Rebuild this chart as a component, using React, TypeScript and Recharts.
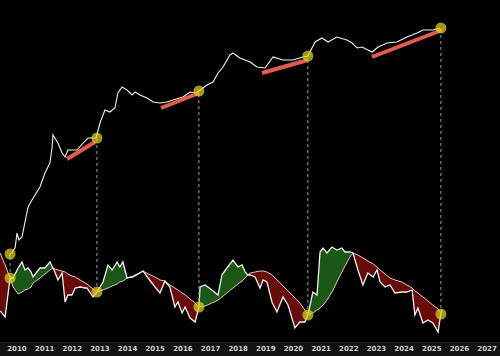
import {
  ComposedChart,
  Area,
  Line,
  Scatter,
  XAxis,
  YAxis,
} from "recharts";

/* ============ data ============ */

const yearTicks = [2010, 2011, 2012, 2013, 2014, 2015, 2016, 2017, 2018, 2019, 2020, 2021, 2022, 2023, 2024, 2025, 2026, 2027];

// upper panel: price (log-ish level)
const priceYears = [
  2009.71, 2009.93, 2010.0, 2010.07, 2010.18, 2010.4, 2010.54, 2010.83, 2011.01, 2011.19,
  2011.27, 2011.3, 2011.48, 2011.63, 2011.74, 2011.84, 2012.17, 2012.39, 2012.57, 2012.86,
  2013.0, 2013.18, 2013.36, 2013.54, 2013.65, 2013.8, 2013.98, 2014.16, 2014.27, 2014.45,
  2014.7, 2014.92, 2015.17, 2015.42, 2015.64, 2016.0, 2016.26, 2016.44, 2016.58, 2016.87,
  2017.09, 2017.27, 2017.45, 2017.7, 2017.81, 2018.06, 2018.43, 2018.68, 2018.97, 2019.26,
  2019.62, 2019.98, 2020.34, 2020.52, 2020.78, 2021.03, 2021.25, 2021.57, 2021.93, 2022.12,
  2022.3, 2022.48, 2022.84, 2023.06, 2023.38, 2023.74, 2024.1, 2024.47, 2024.68, 2025.04,
  2025.3,
];
const priceValues = [
  87, 95, 110, 103, 106, 136, 143, 156, 170, 180,
  196, 208, 200, 190, 186, 193, 193, 200, 205, 205,
  220, 233, 231, 235, 250, 256, 253, 248, 251, 248,
  245, 241, 240, 241, 243, 246, 251, 250, 252, 258,
  261, 270, 276, 288, 290, 285, 281, 276, 275, 286,
  283, 283, 286, 287, 301, 305, 301, 306, 303, 300,
  295, 296, 291, 296, 300, 301, 306, 310, 313, 313,
  315,
];

// lower panel: oscillator and its moving average
const oscYears = [
  2009.39, 2009.57, 2009.75, 2009.86, 2010.04, 2010.18, 2010.29, 2010.4, 2010.51, 2010.58,
  2010.69, 2010.83, 2011.01, 2011.19, 2011.3, 2011.37, 2011.48, 2011.63, 2011.74, 2011.84,
  2011.99, 2012.1, 2012.28, 2012.46, 2012.53, 2012.75, 2012.89, 2013.11, 2013.29, 2013.44,
  2013.62, 2013.72, 2013.83, 2013.98, 2014.2, 2014.56, 2014.74, 2014.99, 2015.17, 2015.35,
  2015.53, 2015.71, 2015.82, 2015.97, 2016.08, 2016.26, 2016.44, 2016.58, 2016.62, 2016.8,
  2017.05, 2017.27, 2017.41, 2017.59, 2017.81, 2017.99, 2018.14, 2018.25, 2018.35, 2018.43,
  2018.61, 2018.79, 2018.9, 2019.04, 2019.22, 2019.4, 2019.62, 2019.8, 2020.05, 2020.23,
  2020.41, 2020.52, 2020.7, 2020.85, 2020.96, 2021.07, 2021.21, 2021.39, 2021.57, 2021.75,
  2021.86, 2022.04, 2022.15, 2022.33, 2022.51, 2022.69, 2022.88, 2023.02, 2023.13, 2023.31,
  2023.49, 2023.67, 2023.92, 2024.1, 2024.29, 2024.39, 2024.5, 2024.68, 2024.86, 2025.04,
  2025.23, 2025.33, 2025.37,
];
const oscValues = [
  32, 26, 65, 65, 75, 81, 73, 75, 71, 66,
  70, 75, 75, 81, 75, 71, 63, 70, 41, 48,
  48, 55, 56, 55, 55, 46, 51, 61, 78, 73,
  81, 76, 81, 65, 66, 72, 65, 56, 50, 62,
  56, 36, 41, 30, 36, 25, 21, 36, 56, 58,
  53, 48, 68, 75, 83, 76, 78, 71, 68, 68,
  66, 55, 63, 61, 41, 31, 46, 38, 15, 21,
  21, 28, 51, 48, 91, 95, 90, 96, 93, 95,
  91, 91, 90, 73, 58, 70, 66, 73, 61, 56,
  58, 50, 51, 51, 53, 28, 35, 20, 23, 20,
  11, 30, 33,
];
const maValues = [
  90, 78, 65, 56, 49, 51, 53, 54, 56, 60,
  62, 65, 69, 73, 75, 74, 73, 72, 71, 69,
  67, 66, 63, 60, 59, 54, 51, 53, 55, 57,
  59, 61, 62, 65, 67, 72, 69, 66, 63, 62,
  58, 55, 53, 50, 48, 44, 40, 36, 36, 37,
  40, 43, 46, 50, 55, 59, 62, 65, 68, 70,
  71, 72, 72, 71, 68, 63, 57, 52, 45, 40,
  33, 28, 30, 33, 35, 38, 43, 51, 61, 71,
  77, 86, 90, 88, 85, 82, 79, 76, 73, 69,
  65, 63, 61, 58, 55, 52, 50, 46, 42, 38,
  34, 30, 30,
];

// divergence pivots: upper trend lines + matching oscillator lows
const trendStartYears = [2011.81, 2015.21, 2018.86, 2022.84];
const trendStartValues = [184, 235, 270, 286];
const trendEndYears = [2012.82, 2016.58, 2020.52, 2025.37];
const trendEndValues = [201, 250, 283, 313];

const pivotYears = [2009.75, 2012.89, 2016.58, 2020.52, 2025.33];
const pivotPrice = [89, 205, 252, 287, 315];
const pivotOsc = [65, 51, 36, 28, 29];

/* ============ tables for the library ============ */

const oscRows = oscYears.map((x, i) => {
  const o = oscValues[i];
  const m = maValues[i];
  return {
    x,
    osc: o,
    ma: m,
    up: [m, Math.max(o, m)],
    down: [Math.min(o, m), m],
  };
});

const priceRows = priceYears.map((x, i) => ({ x, v: priceValues[i] }));

const trends = trendStartYears.map((x, i) => [
  { x, v: trendStartValues[i] },
  { x: trendEndYears[i], v: trendEndValues[i] },
]);

const pivotLines = pivotYears.map((x, i) => [
  { x, v: pivotOsc[i] },
  { x, v: pivotPrice[i] },
]);

const pivotDots = [
  ...pivotYears.map((x, i) => ({ x, v: pivotPrice[i] })),
  ...pivotYears.map((x, i) => ({ x, v: pivotOsc[i] })),
];

const W = 500;
const H = 356;

const Dot = (p: any) => (
  <circle cx={p.cx} cy={p.cy} r={5.5} fill="rgba(222,210,30,0.72)" />
);

export default function App() {
  return (
    <div
      style={{
        position: "absolute",
        left: 0,
        top: 0,
        width: W,
        height: H,
        background: "#000",
        overflow: "hidden",
      }}
    >
      <div
        style={{
          position: "absolute",
          left: 0,
          bottom: 0,
          width: W,
          height: 13,
          background: "#121212",
          borderTop: "1px solid #222",
        }}
      />
      <ComposedChart
        width={W}
        height={H}
        data={oscRows}
        margin={{ top: 0, right: 0, bottom: 0, left: 0 }}
        style={{ position: "absolute", left: 0, top: 0 }}
      >
        <XAxis
          dataKey="x"
          type="number"
          domain={[2009.385, 2027.468]}
          allowDataOverflow
          ticks={yearTicks}
          height={13}
          tickSize={0}
          tickMargin={3}
          axisLine={false}
          tickLine={false}
          tick={{ fontSize: 7, fill: "#cfcfcf", fontWeight: 700, fontFamily: "DejaVu Sans" }}
        />
        <YAxis hide type="number" domain={[0, 343]} allowDataOverflow />

        <Area
          dataKey="up"
          type="linear"
          stroke="none"
          fill="#1b5717"
          fillOpacity={1}
          dot={false}
          activeDot={false}
          isAnimationActive={false}
        />
        <Area
          dataKey="down"
          type="linear"
          stroke="none"
          fill="#6a0b0b"
          fillOpacity={1}
          dot={false}
          activeDot={false}
          isAnimationActive={false}
        />
        <Line dataKey="ma" type="linear" stroke="#e6c4c8" strokeWidth={1} dot={false} activeDot={false} isAnimationActive={false} />
        <Line dataKey="osc" type="linear" stroke="#f2f2f2" strokeWidth={1.3} dot={false} activeDot={false} isAnimationActive={false} />

        {pivotLines.map((d, i) => (
          <Line
            key={`pv-${i}`}
            data={d}
            dataKey="v"
            stroke="#9a9a9a"
            strokeWidth={1}
            strokeDasharray="3 3"
            dot={false}
            activeDot={false}
            isAnimationActive={false}
          />
        ))}

        <Line
          data={priceRows}
          dataKey="v"
          type="linear"
          stroke="#f2f2f2"
          strokeWidth={1.1}
          dot={false}
          activeDot={false}
          isAnimationActive={false}
        />

        {trends.map((d, i) => (
          <Line
            key={`tr-${i}`}
            data={d}
            dataKey="v"
            stroke="#e35a4e"
            strokeWidth={4}
            dot={false}
            activeDot={false}
            isAnimationActive={false}
          />
        ))}

        <Scatter data={pivotDots} dataKey="v" shape={Dot} activeShape={Dot} isAnimationActive={false} />
      </ComposedChart>
    </div>
  );
}
